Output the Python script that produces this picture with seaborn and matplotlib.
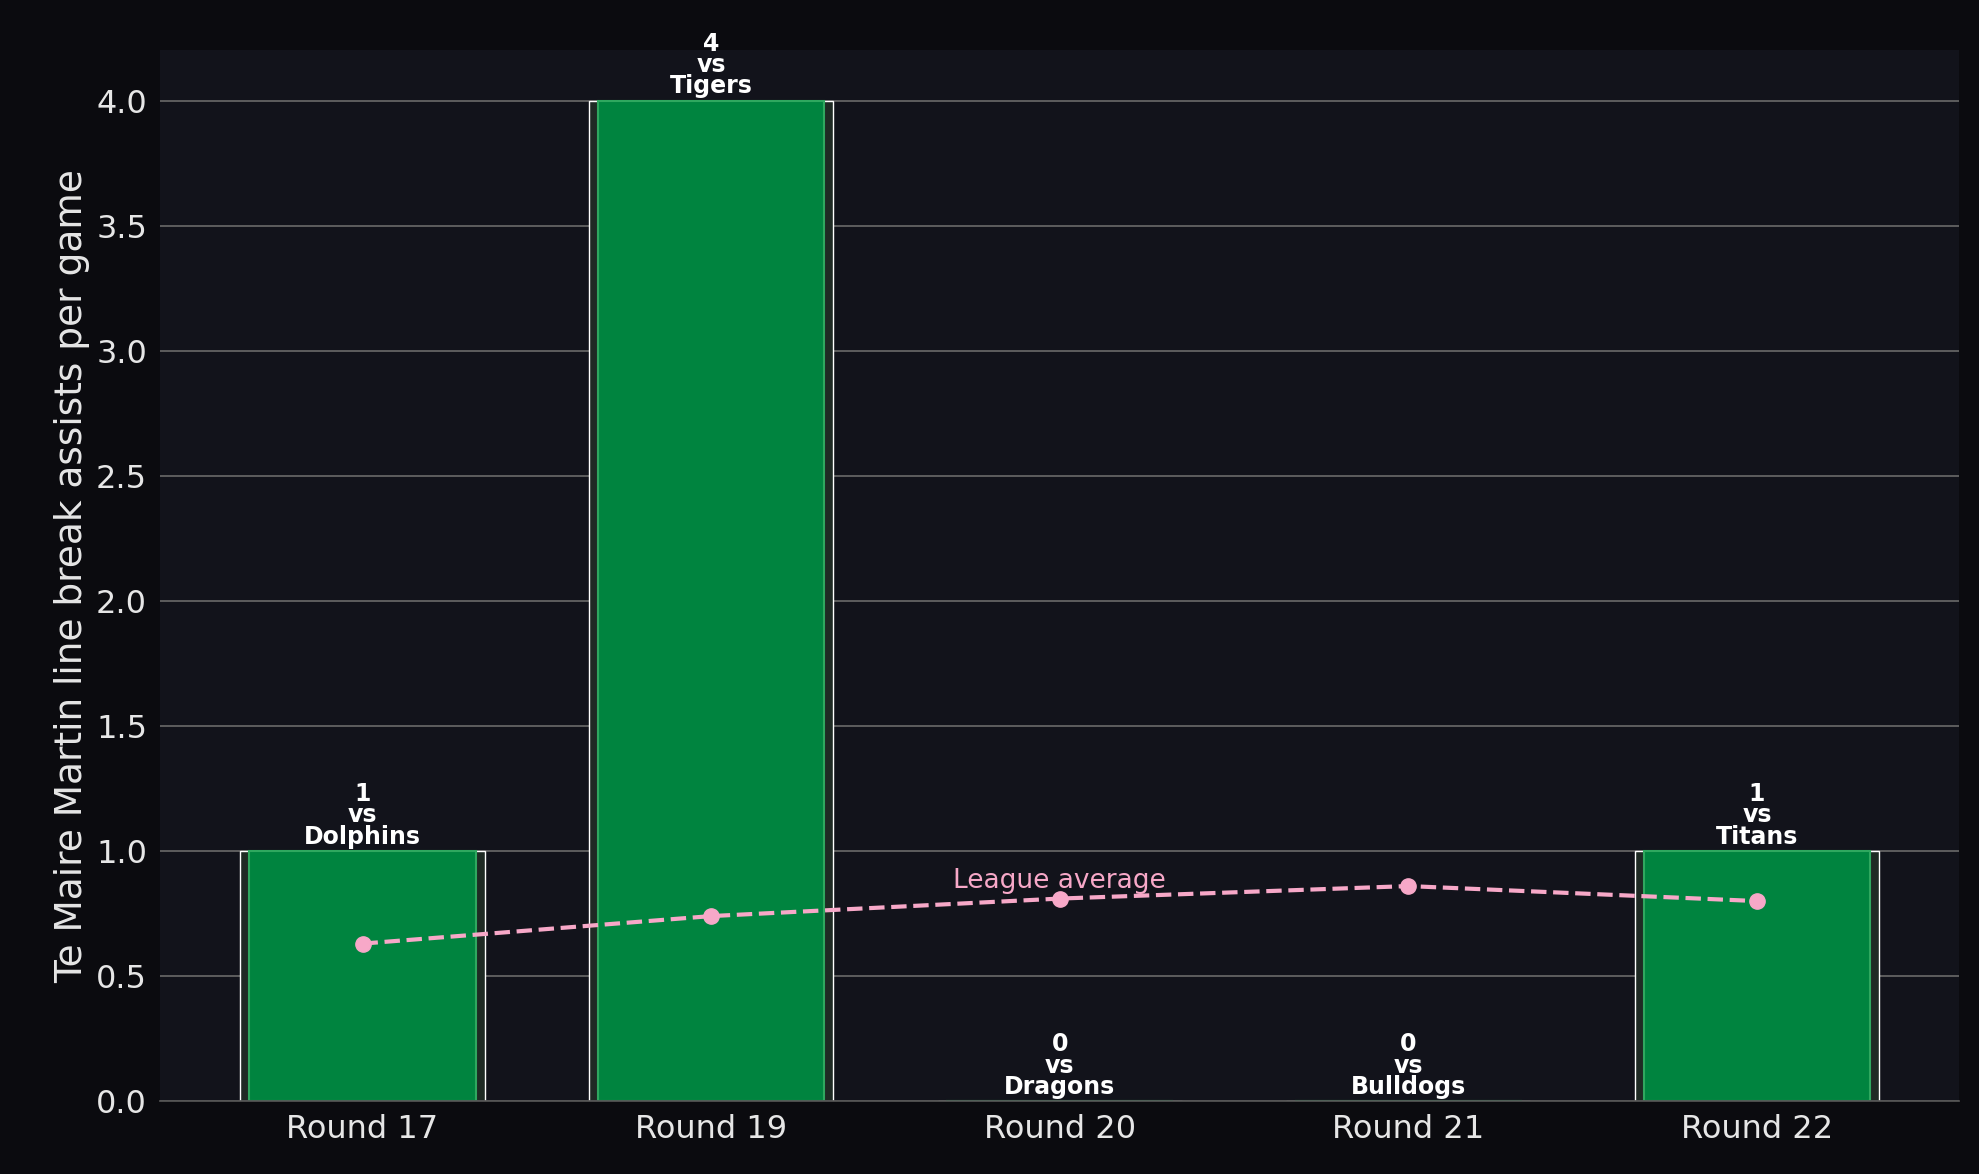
import matplotlib
matplotlib.use("Agg")
import matplotlib.pyplot as plt
import seaborn as sns
import pandas as pd

rounds = ["Round 17", "Round 19", "Round 20", "Round 21", "Round 22"]
assists = [1, 4, 0, 0, 1]
opponents = ["Dolphins", "Tigers", "Dragons", "Bulldogs", "Titans"]
league_avg = [0.63, 0.74, 0.81, 0.86, 0.80]

sns.set_theme(style="dark")
plt.rcParams['font.family'] = ['DejaVu Sans']

fig = plt.figure(figsize=(19.79, 11.74), dpi=100, facecolor="#0b0b0f")
ax = fig.add_axes([0.081, 0.062, 0.909, 0.895])
ax.set_facecolor("#12131b")

df = pd.DataFrame({"round": rounds, "assists": assists})
x = list(range(len(rounds)))
# shadow bars
ax.bar(x, assists, width=0.70, color="#1f2a24", zorder=1)
sns.barplot(data=df, x="round", y="assists", ax=ax, color="#00843f",
            saturation=1, width=0.65, edgecolor="#2fa85f", linewidth=1.5, zorder=2)

ax.plot(x, league_avg, color="#f7a8c8", linestyle="--", linewidth=3,
        marker="o", markersize=11, zorder=4)
ax.text(2, 0.88, "League average", color="#f7a8c8", fontsize=19,
        ha="center", va="center", zorder=5)

for xi, v, opp in zip(x, assists, opponents):
    ax.text(xi, v + 0.01, f"{v}\nvs\n{opp}", ha="center", va="bottom",
            color="white", fontsize=17, fontweight="bold", linespacing=0.85, zorder=6)

ax.set_ylim(0, 4.2)
ax.set_xlim(-0.58, 4.58)
ax.set_yticks([0, 0.5, 1, 1.5, 2, 2.5, 3, 3.5, 4])
ax.yaxis.grid(True, color="#6a6a6a", linewidth=1.2)
ax.xaxis.grid(False)
ax.set_axisbelow(True)
ax.set_xlabel("")
ax.set_ylabel("Te Maire Martin line break assists per game", color="#e6e6e6", fontsize=27)
ax.tick_params(colors="#e6e6e6", labelsize=23)
for s in ["top", "right", "left"]:
    ax.spines[s].set_visible(False)
ax.spines["bottom"].set_visible(True)
ax.spines["bottom"].set_color("#555555")

fig.savefig("out.png", facecolor=fig.get_facecolor())
